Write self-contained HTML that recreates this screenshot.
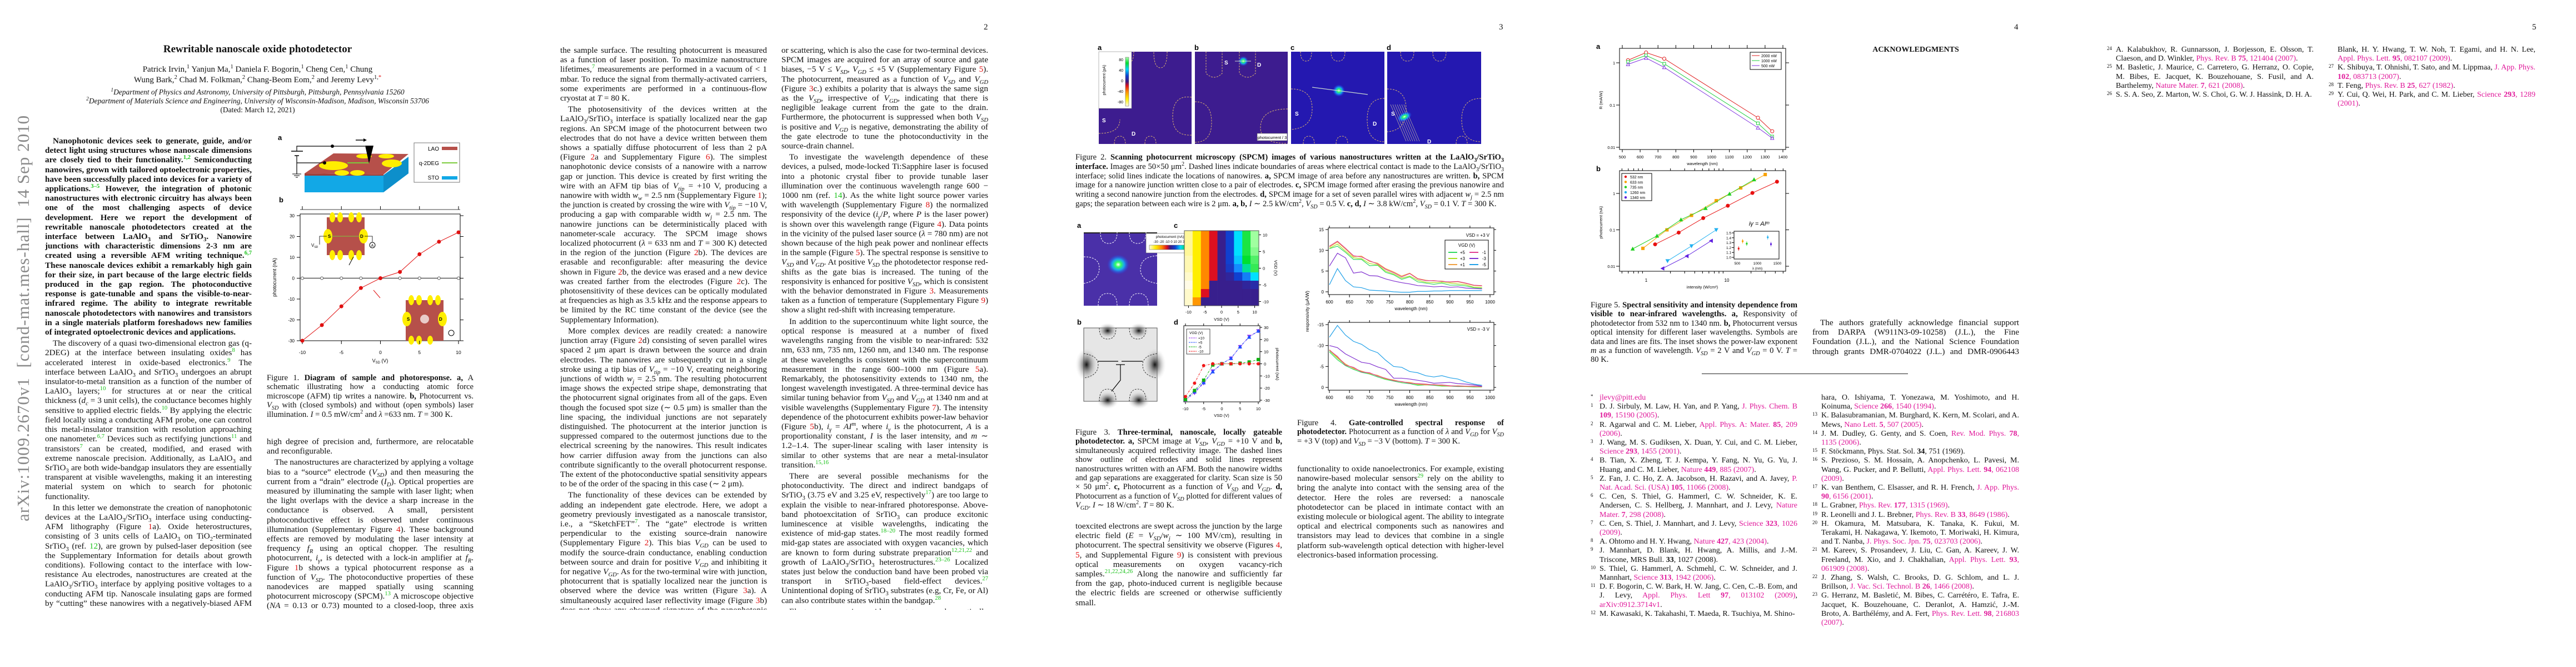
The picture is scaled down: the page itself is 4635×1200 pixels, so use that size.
<!DOCTYPE html>
<html><head><meta charset="utf-8">
<style>
html,body{margin:0;padding:0;background:#fff;}
body{width:4635px;height:1200px;position:relative;overflow:hidden;font-family:"Liberation Serif",serif;color:#111;}
.a{position:absolute;}
.col{position:absolute;width:372px;font-size:15.2px;line-height:17.2px;text-align:justify;overflow:hidden;hyphens:auto;}
.col p{margin:0;text-indent:14px;}
.col p+p{margin-top:3px;}
sup,sub{line-height:0;font-size:70%;}
.g{color:#19c219;} .r{color:#e01010;} .m{color:#e0189a;}
.pn{position:absolute;top:41px;font-size:15px;}
.cap{position:absolute;width:372px;font-size:14.6px;line-height:16.4px;text-align:justify;}
.ref{position:absolute;width:372px;font-size:14px;line-height:16.2px;}
.ref div{padding-left:16px;position:relative;text-align:justify;}
.ref div span.n{position:absolute;left:0;top:-3px;font-size:9px;}
svg text{font-family:"Liberation Sans",sans-serif;}
</style></head>
<body>

<div class="a" style="left:42px;top:598px;width:0;height:0;">
  <div style="position:absolute;left:-340px;top:-18px;width:680px;text-align:center;transform:rotate(-90deg);font-size:31px;color:#8a8a8a;white-space:nowrap;letter-spacing:1px;">arXiv:1009.2670v1&nbsp; [cond-mat.mes-hall]&nbsp; 14 Sep 2010</div>
</div>

<!-- ============ PAGE 1 ============ -->
<div class="a" style="left:0;top:78px;width:927px;text-align:center;font-weight:bold;font-size:19px;">Rewritable nanoscale oxide photodetector</div>
<div class="a" style="left:0;top:116px;width:927px;text-align:center;font-size:15px;line-height:19px;">Patrick Irvin,<sup>1</sup> Yanjun Ma,<sup>1</sup> Daniela F. Bogorin,<sup>1</sup> Cheng Cen,<sup>1</sup> Chung<br>Wung Bark,<sup>2</sup> Chad M. Folkman,<sup>2</sup> Chang-Beom Eom,<sup>2</sup> and Jeremy Levy<sup>1,<span class="r">*</span></sup></div>
<div class="a" style="left:0;top:158px;width:927px;text-align:center;font-size:13.5px;line-height:16px;font-style:italic;"><sup>1</sup>Department of Physics and Astronomy, University of Pittsburgh, Pittsburgh, Pennsylvania 15260<br><sup>2</sup>Department of Materials Science and Engineering, University of Wisconsin-Madison, Madison, Wisconsin 53706<br><span style="font-style:normal">(Dated: March 12, 2021)</span></div>

<div class="col" style="left:81px;top:245px;height:852px;">
<p style="font-weight:bold">Nanophotonic devices seek to generate, guide, and/or detect light using structures whose nanoscale dimensions are closely tied to their functionality.<sup class="g">1,2</sup> Semiconducting nanowires, grown with tailored optoelectronic properties, have been successfully placed into devices for a variety of applications.<sup class="g">3–5</sup> However, the integration of photonic nanostructures with electronic circuitry has always been one of the most challenging aspects of device development. Here we report the development of rewritable nanoscale photodetectors created at the interface between LaAlO<sub>3</sub> and SrTiO<sub>3</sub>. Nanowire junctions with characteristic dimensions 2-3 nm are created using a reversible AFM writing technique.<sup class="g">6,7</sup> These nanoscale devices exhibit a remarkably high gain for their size, in part because of the large electric fields produced in the gap region. The photoconductive response is gate-tunable and spans the visible-to-near-infrared regime. The ability to integrate rewritable nanoscale photodetectors with nanowires and transistors in a single materials platform foreshadows new families of integrated optoelectronic devices and applications.</p>
<p>The discovery of a quasi two-dimensional electron gas (q-2DEG) at the interface between insulating oxides<sup class="g">8</sup> has accelerated interest in oxide-based electronics.<sup class="g">9</sup> The interface between LaAlO<sub>3</sub> and SrTiO<sub>3</sub> undergoes an abrupt insulator-to-metal transition as a function of the number of LaAlO<sub>3</sub> layers;<sup class="g">10</sup> for structures at or near the critical thickness (<i>d<sub>c</sub></i> = 3 unit cells), the conductance becomes highly sensitive to applied electric fields.<sup class="g">10</sup> By applying the electric field locally using a conducting AFM probe, one can control this metal-insulator transition with resolution approaching one nanometer.<sup class="g">6,7</sup> Devices such as rectifying junctions<sup class="g">11</sup> and transistors<sup class="g">7</sup> can be created, modified, and erased with extreme nanoscale precision. Additionally, as LaAlO<sub>3</sub> and SrTiO<sub>3</sub> are both wide-bandgap insulators they are essentially transparent at visible wavelengths, making it an interesting material system on which to search for photonic functionality.</p>
<p>In this letter we demonstrate the creation of nanophotonic devices at the LaAlO<sub>3</sub>/SrTiO<sub>3</sub> interface using conducting-AFM lithography (Figure <span class="r">1</span>a). Oxide heterostructures, consisting of 3 units cells of LaAlO<sub>3</sub> on TiO<sub>2</sub>-terminated SrTiO<sub>3</sub> (ref. <span class="g">12</span>), are grown by pulsed-laser deposition (see the Supplementary Information for details about growth conditions). Following contact to the interface with low-resistance Au electrodes, nanostructures are created at the LaAlO<sub>3</sub>/SrTiO<sub>3</sub> interface by applying positive voltages to a conducting AFM tip. Nanoscale insulating gaps are formed by “cutting” these nanowires with a negatively-biased AFM tip that passes over the nanowire. Electronic nanostructures can be created with a</p>
</div>

<div class="cap" style="left:480px;top:672px;"><span>Figure 1. </span><b>Diagram of sample and photoresponse. a,</b> A schematic illustrating how a conducting atomic force microscope (AFM) tip writes a nanowire. <b>b,</b> Photocurrent vs. <i>V<sub>SD</sub></i> with (closed symbols) and without (open symbols) laser illumination. <i>I</i> = 0.5 mW/cm<sup>2</sup> and <i>λ</i> =633 nm. <i>T</i> = 300 K.</div>

<div class="col" style="left:480px;top:786px;height:311px;">
<p style="text-indent:0">high degree of precision and, furthermore, are relocatable and reconfigurable.</p>
<p>The nanostructures are characterized by applying a voltage bias to a “source” electrode (<i>V<sub>SD</sub></i>) and then measuring the current from a “drain” electrode (<i>I<sub>D</sub></i>). Optical properties are measured by illuminating the sample with laser light; when the light overlaps with the device a sharp increase in the conductance is observed. A small, persistent photoconductive effect is observed under continuous illumination (Supplementary Figure <span class="r">4</span>). These background effects are removed by modulating the laser intensity at frequency <i>f<sub>R</sub></i> using an optical chopper. The resulting photocurrent, <i>i<sub>γ</sub></i>, is detected with a lock-in amplifier at <i>f<sub>R</sub></i>. Figure <span class="r">1</span>b shows a typical photocurrent response as a function of <i>V<sub>SD</sub></i>. The photoconductive properties of these nanodevices are mapped spatially using scanning photocurrent microscopy (SPCM).<sup class="g">13</sup> A microscope objective (<i>NA</i> = 0.13 or 0.73) mounted to a closed-loop, three axis piezo scanner focuses the light and raster-scans it relative to</p>
</div>

<!-- ============ PAGE 2 ============ -->
<div class="pn" style="left:1770px;">2</div>
<div class="col" style="left:1008px;top:82px;height:1015px;">
<p style="text-indent:0">the sample surface. The resulting photocurrent is measured as a function of laser position. To maximize nanostructure lifetimes,<sup class="g">7</sup> measurements are performed in a vacuum of &lt; 1 mbar. To reduce the signal from thermally-activated carriers, some experiments are performed in a continuous-flow cryostat at <i>T</i> = 80 K.</p>
<p>The photosensitivity of the devices written at the LaAlO<sub>3</sub>/SrTiO<sub>3</sub> interface is spatially localized near the gap regions. An SPCM image of the photocurrent between two electrodes that do not have a device written between them shows a spatially diffuse photocurrent of less than 2 pA (Figure <span class="r">2</span>a and Supplementary Figure <span class="r">6</span>). The simplest nanophotonic device consists of a nanowire with a narrow gap or junction. This device is created by first writing the wire with an AFM tip bias of <i>V<sub>tip</sub></i> = +10 V, producing a nanowire with width <i>w<sub>w</sub></i> = 2.5 nm (Supplementary Figure <span class="r">1</span>); the junction is created by crossing the wire with <i>V<sub>tip</sub></i> = −10 V, producing a gap with comparable width <i>w<sub>j</sub></i> = 2.5 nm. The nanowire junctions can be deterministically placed with nanometer-scale accuracy. The SPCM image shows localized photocurrent (<i>λ</i> = 633 nm and <i>T</i> = 300 K) detected in the region of the junction (Figure <span class="r">2</span>b). The devices are erasable and reconfigurable: after measuring the device shown in Figure <span class="r">2</span>b, the device was erased and a new device was created farther from the electrodes (Figure <span class="r">2</span>c). The photosensitivity of these devices can be optically modulated at frequencies as high as 3.5 kHz and the response appears to be limited by the RC time constant of the device (see the Supplementary Information).</p>
<p>More complex devices are readily created: a nanowire junction array (Figure <span class="r">2</span>d) consisting of seven parallel wires spaced 2 μm apart is drawn between the source and drain electrodes. The nanowires are subsequently cut in a single stroke using a tip bias of <i>V<sub>tip</sub></i> = −10 V, creating neighboring junctions of width <i>w<sub>j</sub></i> = 2.5 nm. The resulting photocurrent image shows the expected stripe shape, demonstrating that the photocurrent signal originates from all of the gaps. Even though the focused spot size (∼ 0.5 μm) is smaller than the line spacing, the individual junctions are not separately distinguished. The photocurrent at the interior junction is suppressed compared to the outermost junctions due to the electrical screening by the nanowires. This result indicates how carrier diffusion away from the junctions can also contribute significantly to the overall photocurrent response. The extent of the photoconductive spatial sensitivity appears to be of the order of the spacing in this case (∼ 2 μm).</p>
<p>The functionality of these devices can be extended by adding an independent gate electrode. Here, we adopt a geometry previously investigated as a nanoscale transistor, i.e., a “SketchFET”<sup class="g">7</sup>. The “gate” electrode is written perpendicular to the existing source-drain nanowire (Supplementary Figure <span class="r">2</span>). This bias <i>V<sub>GD</sub></i> can be used to modify the source-drain conductance, enabling conduction between source and drain for positive <i>V<sub>GD</sub></i> and inhibiting it for negative <i>V<sub>GD</sub></i>. As for the two-terminal wire with junction, photocurrent that is spatially localized near the junction is observed where the device was written (Figure <span class="r">3</span>a). A simultaneously acquired laser reflectivity image (Figure <span class="r">3</span>b) does not show any observed signature of the nanophotonic detector, such as changes in the absorption</p>
</div>
<div class="col" style="left:1406px;top:82px;height:1015px;">
<p style="text-indent:0">or scattering, which is also the case for two-terminal devices. SPCM images are acquired for an array of source and gate biases, −5 V ≤ <i>V<sub>SD</sub></i>, <i>V<sub>GD</sub></i> ≤ +5 V (Supplementary Figure <span class="r">5</span>). The photocurrent, measured as a function of <i>V<sub>SD</sub></i> and <i>V<sub>GD</sub></i> (Figure <span class="r">3</span>c.) exhibits a polarity that is always the same sign as the <i>V<sub>SD</sub></i>, irrespective of <i>V<sub>GD</sub></i>, indicating that there is negligible leakage current from the gate to the drain. Furthermore, the photocurrent is suppressed when both <i>V<sub>SD</sub></i> is positive and <i>V<sub>GD</sub></i> is negative, demonstrating the ability of the gate electrode to tune the photoconductivity in the source-drain channel.</p>
<p>To investigate the wavelength dependence of these devices, a pulsed, mode-locked Ti:Sapphire laser is focused into a photonic crystal fiber to provide tunable laser illumination over the continuous wavelength range 600 − 1000 nm (ref. <span class="g">14</span>). As the white light source power varies with wavelength (Supplementary Figure <span class="r">8</span>) the normalized responsivity of the device (<i>i<sub>γ</sub></i>/<i>P</i>, where <i>P</i> is the laser power) is shown over this wavelength range (Figure <span class="r">4</span>). Data points in the vicinity of the pulsed laser source (<i>λ</i> = 780 nm) are not shown because of the high peak power and nonlinear effects in the sample (Figure <span class="r">5</span>). The spectral response is sensitive to <i>V<sub>SD</sub></i> and <i>V<sub>GD</sub></i>. At positive <i>V<sub>SD</sub></i> the photodetector response red-shifts as the gate bias is increased. The tuning of the responsivity is enhanced for positive <i>V<sub>SD</sub></i>, which is consistent with the behavior demonstrated in Figure <span class="r">3</span>. Measurements taken as a function of temperature (Supplementary Figure <span class="r">9</span>) show a slight red-shift with increasing temperature.</p>
<p>In addition to the supercontinuum white light source, the optical response is measured at a number of fixed wavelengths ranging from the visible to near-infrared: 532 nm, 633 nm, 735 nm, 1260 nm, and 1340 nm. The response at these wavelengths is consistent with the supercontinuum measurement in the range 600–1000 nm (Figure <span class="r">5</span>a). Remarkably, the photosensitivity extends to 1340 nm, the longest wavelength investigated. A three-terminal device has similar tuning behavior from <i>V<sub>SD</sub></i> and <i>V<sub>GD</sub></i> at 1340 nm and at visible wavelengths (Supplementary Figure <span class="r">7</span>). The intensity dependence of the photocurrent exhibits power-law behavior (Figure <span class="r">5</span>b), <i>i<sub>γ</sub></i> = <i>AI<sup>m</sup></i>, where <i>i<sub>γ</sub></i> is the photocurrent, <i>A</i> is a proportionality constant, <i>I</i> is the laser intensity, and <i>m</i> ∼ 1.2–1.4. The super-linear scaling with laser intensity is similar to other systems that are near a metal-insulator transition.<sup class="g">15,16</sup></p>
<p>There are several possible mechanisms for the photoconductivity. The direct and indirect bandgaps of SrTiO<sub>3</sub> (3.75 eV and 3.25 eV, respectively<sup class="g">17</sup>) are too large to explain the visible to near-infrared photoresponse. Above-band photoexcitation of SrTiO<sub>3</sub> can produce excitonic luminescence at visible wavelengths, indicating the existence of mid-gap states.<sup class="g">18–20</sup> The most readily formed mid-gap states are associated with oxygen vacancies, which are known to form during substrate preparation<sup class="g">12,21,22</sup> and growth of LaAlO<sub>3</sub>/SrTiO<sub>3</sub> heterostructures.<sup class="g">23–26</sup> Localized states just below the conduction band have been probed via transport in SrTiO<sub>3</sub>-based field-effect devices.<sup class="g">27</sup> Unintentional doping of SrTiO<sub>3</sub> substrates (e.g, Cr, Fe, or Al) can also contribute states within the bandgap.<sup class="g">28</sup></p>
<p>Electrons occupying mid-gap states can be optically excited into the conduction band using sub-bandgap light. The pho-</p>
</div>

<!-- ============ PAGE 3 ============ -->
<div class="pn" style="left:2697px;">3</div>
<div class="cap" style="left:1935px;top:275px;width:771px;font-size:14.6px;line-height:16.8px;">Figure 2. <b>Scanning photocurrent microscopy (SPCM) images of various nanostructures written at the LaAlO<sub>3</sub>/SrTiO<sub>3</sub> interface.</b> Images are 50×50 μm<sup>2</sup>. Dashed lines indicate boundaries of areas where electrical contact is made to the LaAlO<sub>3</sub>/SrTiO<sub>3</sub> interface; solid lines indicate the locations of nanowires. <b>a,</b> SPCM image of area before any nanostructures are written. <b>b,</b> SPCM image for a nanowire junction written close to a pair of electrodes. <b>c,</b> SPCM image formed after erasing the previous nanowire and writing a second nanowire junction from the electrodes. <b>d,</b> SPCM image for a set of seven parallel wires with adjacent <i>w<sub>j</sub></i> = 2.5 nm gaps; the separation between each wire is 2 μm. <b>a, b,</b> <i>I</i> ∼ 2.5 kW/cm<sup>2</sup>, <i>V<sub>SD</sub></i> = 0.5 V. <b>c, d,</b> <i>I</i> ∼ 3.8 kW/cm<sup>2</sup>, <i>V<sub>SD</sub></i> = 0.1 V. <i>T</i> = 300 K.</div>
<div class="cap" style="left:1935px;top:770px;"><span>Figure 3. </span><b>Three-terminal, nanoscale, locally gateable photodetector. a,</b> SPCM image at <i>V<sub>SD</sub></i>, <i>V<sub>GD</sub></i> = +10 V and <b>b,</b> simultaneously acquired reflectivity image. The dashed lines show outline of electrodes and solid lines represent nanostructures written with an AFM. Both the nanowire widths and gap separations are exaggerated for clarity. Scan size is 50 × 50 μm<sup>2</sup>. <b>c,</b> Photocurrent as a function of <i>V<sub>SD</sub></i> and <i>V<sub>GD</sub></i>. <b>d,</b> Photocurrent as a function of <i>V<sub>SD</sub></i> plotted for different values of <i>V<sub>GD</sub></i>. <i>I</i> ∼ 18 W/cm<sup>2</sup>. <i>T</i> = 80 K.</div>
<div class="col" style="left:1935px;top:938px;height:158px;">
<p style="text-indent:0">toexcited electrons are swept across the junction by the large electric field (<i>E</i> = <i>V<sub>SD</sub></i>/<i>w<sub>j</sub></i> ∼ 100 MV/cm), resulting in photocurrent. The spectral sensitivity we observe (Figures <span class="r">4</span>, <span class="r">5</span>, and Supplemental Figure <span class="r">9</span>) is consistent with previous optical measurements on oxygen vacancy-rich samples.<sup class="g">21,22,24,26</sup> Along the nanowire and sufficiently far from the gap, photo-induced current is negligible because the electric fields are screened or otherwise sufficiently small.</p>
<p>The rewritable photodetectors presented here bring new</p>
</div>
<div class="cap" style="left:2334px;top:753px;">Figure 4. <b>Gate-controlled spectral response of photodetector.</b> Photocurrent as a function of <i>λ</i> and <i>V<sub>GD</sub></i> for <i>V<sub>SD</sub></i> = +3 V (top) and <i>V<sub>SD</sub></i> = −3 V (bottom). <i>T</i> = 300 K.</div>
<div class="col" style="left:2334px;top:835px;height:175px;">
<p style="text-indent:0">functionality to oxide nanoelectronics. For example, existing nanowire-based molecular sensors<sup class="g">29</sup> rely on the ability to bring the analyte into contact with the sensing area of the detector. Here the roles are reversed: a nanoscale photodetector can be placed in intimate contact with an existing molecule or biological agent. The ability to integrate optical and electrical components such as nanowires and transistors may lead to devices that combine in a single platform sub-wavelength optical detection with higher-level electronics-based information processing.</p>
</div>

<!-- ============ PAGE 4 ============ -->
<div class="pn" style="left:3624px;">4</div>
<div class="cap" style="left:2862px;top:541px;">Figure 5. <b>Spectral sensitivity and intensity dependence from visible to near-infrared wavelengths. a,</b> Responsivity of photodetector from 532 nm to 1340 nm. <b>b,</b> Photocurrent versus optical intensity for different laser wavelengths. Symbols are data and lines are fits. The inset shows the power-law exponent <i>m</i> as a function of wavelength. <i>V<sub>SD</sub></i> = 2 V and <i>V<sub>GD</sub></i> = 0 V. <i>T</i> = 80 K.</div>
<div class="a" style="left:3261px;top:82px;width:372px;text-align:center;font-weight:bold;font-size:14px;">ACKNOWLEDGMENTS</div>
<div class="col" style="left:3261px;top:572px;height:70px;">
<p>The authors gratefully acknowledge financial support from DARPA (W911N3-09-10258) (J.L.), the Fine Foundation (J.L.), and the National Science Foundation through grants DMR-0704022 (J.L.) and DMR-0906443 (C.B.E).</p>
</div>
<div class="a" style="left:3062px;top:672px;width:371px;height:1px;background:#222;"></div>

<div class="ref" style="left:2862px;top:708px;">
<div><span class="n">*</span><span class="m">jlevy@pitt.edu</span></div>
<div><span class="n">1</span>D. J. Sirbuly, M. Law, H. Yan, and P. Yang, <span class="m">J. Phys. Chem. B <b>109</b>, 15190 (2005)</span>.</div>
<div><span class="n">2</span>R. Agarwal and C. M. Lieber, <span class="m">Appl. Phys. A: Mater. <b>85</b>, 209 (2006)</span>.</div>
<div><span class="n">3</span>J. Wang, M. S. Gudiksen, X. Duan, Y. Cui, and C. M. Lieber, <span class="m">Science <b>293</b>, 1455 (2001)</span>.</div>
<div><span class="n">4</span>B. Tian, X. Zheng, T. J. Kempa, Y. Fang, N. Yu, G. Yu, J. Huang, and C. M. Lieber, <span class="m">Nature <b>449</b>, 885 (2007)</span>.</div>
<div><span class="n">5</span>Z. Fan, J. C. Ho, Z. A. Jacobson, H. Razavi, and A. Javey, <span class="m">P. Nat. Acad. Sci. (USA) <b>105</b>, 11066 (2008)</span>.</div>
<div><span class="n">6</span>C. Cen, S. Thiel, G. Hammerl, C. W. Schneider, K. E. Andersen, C. S. Hellberg, J. Mannhart, and J. Levy, <span class="m">Nature Mater. <b>7</b>, 298 (2008)</span>.</div>
<div><span class="n">7</span>C. Cen, S. Thiel, J. Mannhart, and J. Levy, <span class="m">Science <b>323</b>, 1026 (2009)</span>.</div>
<div><span class="n">8</span>A. Ohtomo and H. Y. Hwang, <span class="m">Nature <b>427</b>, 423 (2004)</span>.</div>
<div><span class="n">9</span>J. Mannhart, D. Blank, H. Hwang, A. Millis, and J.-M. Triscone, MRS Bull. <b>33</b>, 1027 (2008).</div>
<div><span class="n">10</span>S. Thiel, G. Hammerl, A. Schmehl, C. W. Schneider, and J. Mannhart, <span class="m">Science <b>313</b>, 1942 (2006)</span>.</div>
<div><span class="n">11</span>D. F. Bogorin, C. W. Bark, H. W. Jang, C. Cen, C.-B. Eom, and J. Levy, <span class="m">Appl. Phys. Lett <b>97</b>, 013102 (2009)</span>, <span class="m">arXiv:0912.3714v1</span>.</div>
<div><span class="n">12</span>M. Kawasaki, K. Takahashi, T. Maeda, R. Tsuchiya, M. Shino-</div>
</div>
<div class="ref" style="left:3261px;top:708px;">
<div>hara, O. Ishiyama, T. Yonezawa, M. Yoshimoto, and H. Koinuma, <span class="m">Science <b>266</b>, 1540 (1994)</span>.</div>
<div><span class="n">13</span>K. Balasubramanian, M. Burghard, K. Kern, M. Scolari, and A. Mews, <span class="m">Nano Lett. <b>5</b>, 507 (2005)</span>.</div>
<div><span class="n">14</span>J. M. Dudley, G. Genty, and S. Coen, <span class="m">Rev. Mod. Phys. <b>78</b>, 1135 (2006)</span>.</div>
<div><span class="n">15</span>F. Stöckmann, Phys. Stat. Sol. <b>34</b>, 751 (1969).</div>
<div><span class="n">16</span>S. Prezioso, S. M. Hossain, A. Anopchenko, L. Pavesi, M. Wang, G. Pucker, and P. Bellutti, <span class="m">Appl. Phys. Lett. <b>94</b>, 062108 (2009)</span>.</div>
<div><span class="n">17</span>K. van Benthem, C. Elsasser, and R. H. French, <span class="m">J. App. Phys. <b>90</b>, 6156 (2001)</span>.</div>
<div><span class="n">18</span>L. Grabner, <span class="m">Phys. Rev. <b>177</b>, 1315 (1969)</span>.</div>
<div><span class="n">19</span>R. Leonelli and J. L. Brebner, <span class="m">Phys. Rev. B <b>33</b>, 8649 (1986)</span>.</div>
<div><span class="n">20</span>H. Okamura, M. Matsubara, K. Tanaka, K. Fukui, M. Terakami, H. Nakagawa, Y. Ikemoto, T. Moriwaki, H. Kimura, and T. Nanba, <span class="m">J. Phys. Soc. Jpn. <b>75</b>, 023703 (2006)</span>.</div>
<div><span class="n">21</span>M. Kareev, S. Prosandeev, J. Liu, C. Gan, A. Kareev, J. W. Freeland, M. Xio, and J. Chakhalian, <span class="m">Appl. Phys. Lett. <b>93</b>, 061909 (2008)</span>.</div>
<div><span class="n">22</span>J. Zhang, S. Walsh, C. Brooks, D. G. Schlom, and L. J. Brillson, <span class="m">J. Vac. Sci. Technol. B <b>26</b>, 1466 (2008)</span>.</div>
<div><span class="n">23</span>G. Herranz, M. Basletić, M. Bibes, C. Carrétéro, E. Tafra, E. Jacquet, K. Bouzehouane, C. Deranlot, A. Hamzić, J.-M. Broto, A. Barthélémy, and A. Fert, <span class="m">Phys. Rev. Lett. <b>98</b>, 216803 (2007)</span>.</div>
</div>

<!-- ============ PAGE 5 ============ -->
<div class="pn" style="left:4556px;">5</div>
<div class="ref" style="left:3791px;top:82px;">
<div><span class="n">24</span>A. Kalabukhov, R. Gunnarsson, J. Borjesson, E. Olsson, T. Claeson, and D. Winkler, <span class="m">Phys. Rev. B <b>75</b>, 121404 (2007)</span>.</div>
<div><span class="n">25</span>M. Basletic, J. Maurice, C. Carretero, G. Herranz, O. Copie, M. Bibes, E. Jacquet, K. Bouzehouane, S. Fusil, and A. Barthelemy, <span class="m">Nature Mater. <b>7</b>, 621 (2008)</span>.</div>
<div><span class="n">26</span>S. S. A. Seo, Z. Marton, W. S. Choi, G. W. J. Hassink, D. H. A.</div>
</div>
<div class="ref" style="left:4190px;top:82px;">
<div>Blank, H. Y. Hwang, T. W. Noh, T. Egami, and H. N. Lee, <span class="m">Appl. Phys. Lett. <b>95</b>, 082107 (2009)</span>.</div>
<div><span class="n">27</span>K. Shibuya, T. Ohnishi, T. Sato, and M. Lippmaa, <span class="m">J. App. Phys. <b>102</b>, 083713 (2007)</span>.</div>
<div><span class="n">28</span>T. Feng, <span class="m">Phys. Rev. B <b>25</b>, 627 (1982)</span>.</div>
<div><span class="n">29</span>Y. Cui, Q. Wei, H. Park, and C. M. Lieber, <span class="m">Science <b>293</b>, 1289 (2001)</span>.</div>
</div>

<!-- ============ FIGURES (SVG) ============ -->
<svg id="figs" class="a" style="left:0;top:0;" width="4635" height="1200" viewBox="0 0 4635 1200">
<defs>
  <radialGradient id="glow" cx="0.5" cy="0.5" r="0.5">
    <stop offset="0" stop-color="#ffffff"/><stop offset="0.25" stop-color="#30ff60"/><stop offset="0.55" stop-color="#10c0ff" stop-opacity="0.8"/><stop offset="1" stop-color="#2040ff" stop-opacity="0"/>
  </radialGradient>
  <linearGradient id="cbarV" x1="0" y1="1" x2="0" y2="0">
    <stop offset="0" stop-color="#fffbe0"/><stop offset="0.15" stop-color="#ffee00"/><stop offset="0.3" stop-color="#ff8800"/><stop offset="0.42" stop-color="#dd1020"/><stop offset="0.5" stop-color="#401880"/><stop offset="0.62" stop-color="#1040d0"/><stop offset="0.75" stop-color="#00d8ff"/><stop offset="0.88" stop-color="#00e030"/><stop offset="1" stop-color="#b0ffb0"/>
  </linearGradient>
  <linearGradient id="cbarH" x1="0" y1="0" x2="1" y2="0">
    <stop offset="0" stop-color="#fffbe0"/><stop offset="0.15" stop-color="#ffee00"/><stop offset="0.3" stop-color="#ff8800"/><stop offset="0.42" stop-color="#dd1020"/><stop offset="0.5" stop-color="#401880"/><stop offset="0.62" stop-color="#1040d0"/><stop offset="0.75" stop-color="#00d8ff"/><stop offset="0.88" stop-color="#00e030"/><stop offset="1" stop-color="#b0ffb0"/>
  </linearGradient>
  <radialGradient id="dark" cx="0.5" cy="0.5" r="0.5"><stop offset="0" stop-color="#111"/><stop offset="1" stop-color="#ddd" stop-opacity="0"/></radialGradient>
</defs>

<g>
  <text x="500" y="252" font-size="13" font-weight="bold">a</text>
  <polygon points="548,315 690,315 690,346 548,346" fill="#12a8e6"/>
  <polygon points="690,315 735,282 735,312 690,346" fill="#0d8fcb"/>
  <polygon points="548,312 600,276 735,277 690,314" fill="#b6504a"/>
  <polygon points="548,312 690,314 690,316 548,316" fill="#9e3f3a"/>
  <ellipse cx="600" cy="298" rx="26" ry="8" fill="#ffee00"/>
  <ellipse cx="705" cy="294" rx="18" ry="7" fill="#ffee00"/>
  <ellipse cx="655" cy="281" rx="14" ry="4" fill="#ffee00"/>
  <ellipse cx="695" cy="281" rx="14" ry="4" fill="#ffee00"/>
  <ellipse cx="615" cy="311" rx="13" ry="5" fill="#ffee00"/>
  <ellipse cx="643" cy="311" rx="13" ry="5" fill="#ffee00"/>
  <line x1="625" y1="293" x2="664" y2="293" stroke="#7ccc3c" stroke-width="2"/>
  <polygon points="657,262 672,262 664,294" fill="#000"/>
  <polyline points="657,263 534,263 534,272" fill="none" stroke="#000" stroke-width="1.2"/>
  <line x1="524" y1="272" x2="545" y2="272" stroke="#000" stroke-width="1.5"/>
  <line x1="530" y1="280" x2="538" y2="280" stroke="#000" stroke-width="1.5"/>
  <polyline points="534,280 534,313" fill="none" stroke="#000" stroke-width="1.2"/>
  <line x1="526" y1="313" x2="542" y2="313" stroke="#000"/><line x1="529" y1="316" x2="539" y2="316" stroke="#000"/><line x1="532" y1="319" x2="536" y2="319" stroke="#000"/>
  <polyline points="534,293 584,293" fill="none" stroke="#000" stroke-width="1.2"/>
  <circle cx="598" cy="263" r="3" fill="#000"/><circle cx="584" cy="293" r="3" fill="#000"/>
  <line x1="640" y1="252" x2="658" y2="252" stroke="#000" stroke-width="1.5"/><polygon points="660,252 654,249 654,255" fill="#000"/>
  <rect x="745" y="257" width="82" height="71" fill="#fff" stroke="#777"/>
  <text x="790" y="271" font-size="10" text-anchor="end">LAO</text><rect x="795" y="264" width="28" height="6" fill="#b6504a"/>
  <text x="790" y="297" font-size="10" text-anchor="end">q-2DEG</text><line x1="795" y1="293" x2="823" y2="293" stroke="#7ccc3c" stroke-width="2"/>
  <text x="790" y="323" font-size="10" text-anchor="end">STO</text><rect x="795" y="317" width="28" height="6" fill="#12a8e6"/>
</g>

<g id="fig1b">
  <text x="502" y="364" font-size="13" font-weight="bold">b</text>
  <rect x="540" y="385" width="288" height="228" fill="none" stroke="#000" stroke-width="1"/>
  <line x1="540" y1="377" x2="828" y2="377" stroke="#000" stroke-width="0.8"/>
  <text x="497" y="499" font-size="9" transform="rotate(-90 497 499)" text-anchor="middle">photocurrent (nA)</text>
  <text x="684" y="652" font-size="9" text-anchor="middle">V<tspan font-size="6" dy="2">SD</tspan><tspan dy="-2"> (V)</tspan></text>
  <g>
    <rect x="588" y="391" width="68" height="68" fill="#b6504a"/>
    <ellipse cx="598" cy="391" rx="5" ry="9" fill="#ffee00"/><ellipse cx="612" cy="391" rx="5" ry="9" fill="#ffee00"/><ellipse cx="632" cy="391" rx="5" ry="9" fill="#ffee00"/><ellipse cx="646" cy="391" rx="5" ry="9" fill="#ffee00"/>
    <ellipse cx="598" cy="459" rx="5" ry="9" fill="#ffee00"/><ellipse cx="612" cy="459" rx="5" ry="9" fill="#ffee00"/><ellipse cx="632" cy="459" rx="5" ry="9" fill="#ffee00"/><ellipse cx="646" cy="459" rx="5" ry="9" fill="#ffee00"/>
    <ellipse cx="590" cy="425" rx="8" ry="13" fill="#ffee00"/><ellipse cx="654" cy="425" rx="8" ry="13" fill="#ffee00"/>
    <line x1="596" y1="425" x2="648" y2="425" stroke="#7ccc3c"/>
    <text x="590" y="428" font-size="8" font-weight="bold">S</text><text x="648" y="428" font-size="8" font-weight="bold">D</text>
    <polyline points="588,425 575,425 575,440" fill="none" stroke="#000" stroke-width="0.8"/>
    <polyline points="656,425 670,425 670,435" fill="none" stroke="#000" stroke-width="0.8"/>
    <circle cx="670" cy="441" r="5" fill="#fff" stroke="#000"/><text x="670" y="444" font-size="7" text-anchor="middle">A</text>
    <text x="560" y="444" font-size="8">V<tspan font-size="5" dy="2">SD</tspan></text>
    <line x1="628" y1="477" x2="636" y2="462" stroke="#000"/>
  </g>
  <g>
    <rect x="730" y="540" width="68" height="73" fill="#b6504a"/>
    <ellipse cx="740" cy="540" rx="5" ry="9" fill="#ffee00"/><ellipse cx="754" cy="540" rx="5" ry="9" fill="#ffee00"/><ellipse cx="774" cy="540" rx="5" ry="9" fill="#ffee00"/><ellipse cx="788" cy="540" rx="5" ry="9" fill="#ffee00"/>
    <ellipse cx="740" cy="612" rx="5" ry="8" fill="#ffee00"/><ellipse cx="754" cy="612" rx="5" ry="8" fill="#ffee00"/><ellipse cx="774" cy="612" rx="5" ry="8" fill="#ffee00"/>
    <ellipse cx="732" cy="574" rx="8" ry="13" fill="#ffee00"/><ellipse cx="796" cy="574" rx="8" ry="13" fill="#ffee00"/>
    <circle cx="764" cy="574" r="8" fill="#fff" opacity="0.7"/>
    <text x="732" y="577" font-size="8" font-weight="bold">S</text><text x="790" y="577" font-size="8" font-weight="bold">D</text>
    <circle cx="812" cy="599" r="5" fill="#fff" stroke="#000"/>
    <line x1="672" y1="522" x2="684" y2="536" stroke="#e01010"/>
  </g>
</g>

<g>
  <text x="1975" y="90" font-size="13" font-weight="bold">a</text>
  <text x="2149" y="90" font-size="13" font-weight="bold">b</text>
  <text x="2322" y="90" font-size="13" font-weight="bold">c</text>
  <text x="2495" y="90" font-size="13" font-weight="bold">d</text>
  <rect x="1977" y="93" width="167" height="166" fill="#3d1c8f"/>
  <rect x="2150" y="93" width="167" height="166" fill="#3d1c8f"/>
  <rect x="2323" y="93" width="168" height="166" fill="#2418b0"/>
  <rect x="2496" y="93" width="169" height="166" fill="#2418b0"/>
  <g fill="none" stroke="#d8b070" stroke-width="1" stroke-dasharray="3,2">
    <path d="M2040,93 Q2040,116 2025,116 Q2012,116 2012,93"/>
    <path d="M2100,93 Q2100,122 2088,122 Q2076,122 2076,93"/>
    <path d="M2144,175 Q2110,170 2110,210 Q2110,245 2144,243"/>
    <path d="M1977,240 Q2015,240 2015,215"/>
    <path d="M2005,259 Q2005,245 2015,245 Q2025,245 2025,259"/>
    <path d="M2060,259 Q2060,245 2070,245 Q2080,245 2080,259"/>
    <path d="M2170,93 L2170,132 Q2185,146 2199,132 L2199,93"/>
    <path d="M2230,93 L2230,132 Q2245,146 2259,132 L2259,93"/>
    <path d="M2150,183 Q2180,183 2180,220 Q2180,256 2150,256"/>
    <path d="M2317,196 Q2268,196 2268,230 Q2268,258 2317,258"/>
    <path d="M2340,93 Q2340,110 2350,110 Q2360,110 2360,93"/>
    <path d="M2395,93 Q2395,110 2408,110 Q2420,110 2420,93"/>
    <path d="M2323,160 Q2361,160 2361,196 Q2361,230 2323,233"/>
    <path d="M2491,177 Q2460,177 2460,215 Q2460,255 2491,255"/>
    <path d="M2345,259 Q2345,245 2355,245 Q2365,245 2365,259"/>
    <path d="M2404,259 Q2404,245 2415,245 Q2425,245 2425,259"/>
    <path d="M2520,93 Q2520,110 2532,110 Q2544,110 2544,93"/>
    <path d="M2578,93 Q2578,110 2590,110 Q2602,110 2602,93"/>
    <path d="M2496,160 Q2530,160 2530,196 Q2530,235 2496,237"/>
    <path d="M2665,177 Q2630,177 2630,215 Q2630,255 2665,255"/>
    <path d="M2620,259 Q2620,245 2630,245 Q2640,245 2640,259"/>
  </g>
  <rect x="1977" y="93" width="59" height="102" fill="#fff" stroke="#888" stroke-width="0.6"/>
  <rect x="2025" y="103" width="6" height="88" fill="url(#cbarV)" stroke="#555" stroke-width="0.5"/>
  <text x="1989" y="144" font-size="7" transform="rotate(-90 1989 144)" text-anchor="middle">photocurrent (pA)</text>
  <text x="2021" y="110" font-size="7" text-anchor="end">80</text><text x="2021" y="129" font-size="7" text-anchor="end">40</text><text x="2021" y="148" font-size="7" text-anchor="end">0</text><text x="2021" y="167" font-size="7" text-anchor="end">-40</text><text x="2021" y="186" font-size="7" text-anchor="end">-80</text>
  <text x="1983" y="220" font-size="10" fill="#fff" font-weight="bold">S</text><text x="2036" y="244" font-size="10" fill="#fff" font-weight="bold">D</text>
  <circle cx="2237" cy="110" r="9" fill="url(#glow)"/>
  <line x1="2222" y1="110" x2="2251" y2="110" stroke="#c8d8d0" stroke-width="1"/>
  <text x="2203" y="116" font-size="10" fill="#fff" font-weight="bold">S</text><text x="2262" y="120" font-size="10" fill="#fff" font-weight="bold">D</text>
  <rect x="2262" y="240" width="54" height="13" fill="#fff" stroke="#555" stroke-width="0.6"/>
  <text x="2289" y="250" font-size="7.5" text-anchor="middle">photocurrent / 3</text>
  <circle cx="2409" cy="163" r="11" fill="url(#glow)"/>
  <line x1="2361" y1="157" x2="2461" y2="170" stroke="#c8d8d0" stroke-width="1.2"/>
  <text x="2330" y="208" font-size="10" fill="#fff" font-weight="bold">S</text><text x="2470" y="226" font-size="10" fill="#fff" font-weight="bold">D</text>
  <g stroke="#d8d0a0" stroke-width="0.6">
    <line x1="2502" y1="188" x2="2530" y2="254"/>
    <line x1="2506" y1="188" x2="2534" y2="254"/>
    <line x1="2510" y1="188" x2="2538" y2="254"/>
    <line x1="2514" y1="188" x2="2542" y2="254"/>
    <line x1="2518" y1="188" x2="2546" y2="254"/>
    <line x1="2522" y1="188" x2="2550" y2="254"/>
    <line x1="2526" y1="188" x2="2554" y2="254"/>
  </g>
  <ellipse cx="2527" cy="210" rx="14" ry="8" fill="url(#glow)" transform="rotate(-25 2527 210)"/>
  <text x="2503" y="208" font-size="10" fill="#fff" font-weight="bold">S</text><text x="2568" y="258" font-size="10" fill="#fff" font-weight="bold">D</text>
</g>

<g>
  <text x="1938" y="410" font-size="13" font-weight="bold">a</text>
  <text x="2112" y="410" font-size="13" font-weight="bold">c</text>
  <text x="1938" y="584" font-size="13" font-weight="bold">b</text>
  <text x="2112" y="584" font-size="13" font-weight="bold">d</text>
  <rect x="1950" y="418" width="132" height="132" fill="#4a30a8"/>
  <rect x="1950" y="418" width="132" height="2" fill="#222"/>
  <ellipse cx="2012" cy="476" rx="20" ry="18" fill="url(#glow)"/>
  <g fill="none" stroke="#fff" stroke-width="1" stroke-dasharray="3,2">
    <path d="M1980,418 Q1980,438 1995,438 Q2010,438 2010,418"/>
    <path d="M2032,418 Q2032,438 2047,438 Q2062,438 2062,418"/>
    <path d="M1950,462 Q1978,462 1978,482 Q1978,505 1950,510"/>
    <path d="M2082,460 Q2052,462 2052,485 Q2052,505 2082,510"/>
    <path d="M1976,550 Q1976,528 1993,528 Q2010,528 2010,550"/>
    <path d="M2032,550 Q2032,528 2049,528 Q2066,528 2066,550"/>
  </g>
  <rect x="2062" y="420" width="86" height="35" fill="#fff" stroke="#666" stroke-width="0.6"/>
  <text x="2105" y="428" font-size="6.5" text-anchor="middle">photocurrent (nA)</text>
  <text x="2105" y="437" font-size="6" text-anchor="middle">-30 -20 -10  0  10  20  30</text>
  <rect x="2068" y="441" width="75" height="8" fill="url(#cbarH)" stroke="#555" stroke-width="0.5"/>
  <rect x="1950" y="590" width="132" height="132" fill="#e6e6e6" stroke="#555"/>
  <ellipse cx="1993" cy="595" rx="18" ry="14" fill="url(#dark)"/><ellipse cx="2049" cy="595" rx="18" ry="14" fill="url(#dark)"/>
  <ellipse cx="1955" cy="656" rx="20" ry="30" fill="url(#dark)"/><ellipse cx="2078" cy="656" rx="20" ry="30" fill="url(#dark)"/>
  <ellipse cx="1993" cy="720" rx="20" ry="16" fill="url(#dark)"/><ellipse cx="2049" cy="720" rx="20" ry="16" fill="url(#dark)"/>
  <g fill="none" stroke="#111" stroke-width="0.8" stroke-dasharray="3,2">
    <path d="M1978,590 Q1978,610 1993,610 Q2008,610 2008,590"/>
    <path d="M2032,590 Q2032,610 2047,610 Q2062,610 2062,590"/>
    <path d="M1950,636 Q1976,640 1976,656 Q1976,676 1950,680"/>
    <path d="M2082,636 Q2056,640 2056,656 Q2056,676 2082,680"/>
    <path d="M1978,722 Q1978,700 1993,700 Q2008,700 2008,722"/>
    <path d="M2032,722 Q2032,700 2047,700 Q2062,700 2062,722"/>
  </g>
  <g stroke="#000" stroke-width="1.2" fill="none">
    <line x1="1975" y1="650" x2="2012" y2="650"/><line x1="2018" y1="650" x2="2056" y2="650"/>
    <line x1="2008" y1="656" x2="2024" y2="656"/>
    <polyline points="2016,656 2016,684 2000,704"/>
  </g>
</g>
<g id="fig3c"></g>
<g id="fig3d"></g>
<g id="fig4"></g>
<g id="fig5a"><text x="2872" y="88" font-size="13" font-weight="bold">a</text></g>
<g id="fig5b"><text x="2872" y="308" font-size="13" font-weight="bold">b</text></g>
</svg>

<script>
const f1Vsd = [-10, -7.5, -5, -2.5, 0, 2.5, 5, 7.5, 10];
const f1Light = [-30, -22.5, -13.5, -4.7, 0, 3, 11.5, 17.5, 22];
const f1Dark = [0, 0, 0, 0, 0, 0, 0, 0, 0];
const f1YTicks = [-30, -20, -10, 0, 10, 20, 30];
const f1XTicks = [-10, -5, 0, 5, 10];

const f3cVsd = [-10, -7.5, -5, -2.5, 0, 2.5, 5, 7.5, 10];
const f3cVgd = [10, 7.5, 5, 2.5, 0, -2.5, -5, -7.5, -10];
const f3cRow0 = [-28, -22, -15, -8, 1, 6, 15, 22, 27];
const f3cRow1 = [-28, -22, -15, -8, 1, 6, 15, 22, 27];
const f3cRow2 = [-28, -22, -15, -8, 1, 6, 15, 22, 26];
const f3cRow3 = [-29, -22, -15, -8, 1, 6, 14, 21, 24];
const f3cRow4 = [-29, -22, -15, -8, 1, 5, 12, 18, 23];
const f3cRow5 = [-30, -22, -15, -8, 1, 2, 6, 11, 15];
const f3cRow6 = [-31, -22, -15, 1, 1, 1, 1, 2, 3];
const f3cRow7 = [-30, -22, -8, 1, 1, 1, 1, 1, 1];
const f3cRow8 = [-30, -16, 1, 1, 1, 1, 1, 1, 1];
const f3cRows = [f3cRow0, f3cRow1, f3cRow2, f3cRow3, f3cRow4, f3cRow5, f3cRow6, f3cRow7, f3cRow8];

const f3dVsd = [-10, -7.5, -5, -2.5, 0, 2.5, 5, 7.5, 10];
const f3dP10 = [-30, -24, -16, -6, 0, 4.5, 14, 22.5, 27];
const f3dP5 = [-29.5, -23, -15.5, -6.5, 0, 4.5, 14, 22, 27];
const f3dM5 = [-29.5, -22, -13.5, -1, 0, 0, 0.5, 1.5, 3.5];
const f3dM10 = [-27, -16, -1.5, 0, 0, 0, 0, 0, 0];
const f3dLabels = ["+10", "+5", "-5", "-10"];

const f4Lambda = [600, 620, 640, 660, 680, 700, 720, 740, 760, 780, 800, 820, 840, 860, 880, 900, 920, 940, 960, 980];
const f4TopP5 = [10.4, 11.0, 9.5, 7.8, 7.8, 6.3, 6.4, 4.7, 4.1, 3.0, 3.6, 2.4, 2.1, 1.8, 2.1, 1.6, 1.6, 1.4, 1.0, 0.9];
const f4TopP3 = [10.5, 11.5, 9.8, 8.2, 8.0, 6.8, 6.5, 5.0, 4.3, 3.3, 3.8, 2.8, 2.3, 2.2, 2.3, 2.1, 1.9, 1.7, 1.1, 1.0];
const f4TopP1 = [10.8, 12.0, 10.3, 8.5, 8.6, 7.3, 6.9, 5.6, 4.8, 3.8, 4.5, 3.2, 2.8, 2.6, 2.6, 2.3, 2.4, 2.0, 1.5, 1.4];
const f4TopM1 = [11.0, 12.2, 10.5, 8.7, 8.4, 7.5, 6.7, 5.4, 4.6, 3.6, 4.4, 3.1, 2.7, 2.7, 2.5, 2.4, 2.5, 2.1, 1.6, 1.5];
const f4TopM3 = [6.2, 9.3, 8.2, 4.5, 4.8, 3.9, 3.8, 3.1, 2.6, 2.2, 1.9, 1.5, 1.4, 1.2, 1.3, 1.1, 1.2, 0.9, 0.8, 0.7];
const f4TopM5 = [1.7, 5.6, 2.7, 1.2, 1.0, 0.4, 0.3, 0.2, 0.0, -0.1, -0.1, 0.1, 0.1, 0.2, 0.2, 0.3, 0.3, 0.3, 0.3, 0.3];
const f4BotP5 = [-8.5, -6.6, -5.2, -4.3, -3.6, -3.2, -2.5, -1.9, -1.5, -1.1, -0.9, -0.5, -0.6, -0.5, -0.3, -0.3, -0.2, -0.2, -0.1, -0.1];
const f4BotP3 = [-8.8, -7.0, -5.4, -4.6, -3.8, -3.4, -2.8, -2.0, -1.7, -1.3, -1.1, -0.7, -0.7, -0.6, -0.4, -0.4, -0.3, -0.2, -0.2, -0.1];
const f4BotP1 = [-9.0, -7.2, -5.6, -4.5, -3.9, -3.3, -2.9, -2.1, -1.8, -1.3, -1.2, -0.8, -0.6, -0.7, -0.5, -0.3, -0.4, -0.3, -0.2, -0.2];
const f4BotM1 = [-8.9, -7.4, -5.3, -4.8, -3.7, -3.5, -2.7, -2.2, -1.6, -1.4, -1.0, -0.9, -0.8, -0.6, -0.6, -0.4, -0.3, -0.3, -0.3, -0.2];
const f4BotM3 = [-10.0, -9.5, -8.0, -7.0, -6.0, -5.7, -4.9, -4.3, -2.2, -2.2, -2.0, -1.7, -1.4, -1.0, -1.1, -1.2, -0.9, -0.8, -0.6, -0.3];
const f4BotM5 = [-12.0, -14.8, -12.5, -11.0, -10.3, -9.0, -8.3, -6.5, -5.0, -4.8, -3.8, -3.5, -2.8, -2.5, -2.8, -2.3, -2.0, -1.3, -0.8, -0.5];
const f4XTicks = [600, 650, 700, 750, 800, 850, 900, 950, 1000];
const f4TopYTicks = [0, 5, 10, 15];
const f4BotYTicks = [-15, -10, -5, 0];
const f4Labels = ["+5", "+3", "+1", "-1", "-3", "-5"];

const f5aLambda = [532, 633, 735, 1260, 1340];
const f5a2000 = [1.15, 1.75, 1.25, 0.05, 0.024];
const f5a1000 = [1.05, 1.5, 0.95, 0.037, 0.018];
const f5a500 = [0.92, 1.3, 0.78, 0.029, 0.0165];
const f5aXTicks = [500, 600, 700, 800, 900, 1000, 1100, 1200, 1300, 1400];
const f5aLabels = ["2000 nW", "1000 nW", "500 nW"];

const f5bI532 = [1.29, 2.53, 5.1, 10.3, 20.8, 42];
const f5bP532 = [0.040, 0.084, 0.21, 0.46, 1.03, 2.1];
const f5bI633 = [0.91, 1.81, 3.65, 7.4, 14.9, 30];
const f5bP633 = [0.031, 0.10, 0.25, 0.63, 1.42, 3.3];
const f5bI735 = [0.68, 1.36, 2.7, 5.45, 10.8, 21.8];
const f5bP735 = [0.030, 0.068, 0.19, 0.39, 0.97, 2.4];
const f5bI1260 = [1.84, 3.65, 7.4];
const f5bP1260 = [0.014, 0.036, 0.10];
const f5bI1340 = [1.6, 3.2, 6.4];
const f5bP1340 = [0.0087, 0.019, 0.05];
const f5bLabels = ["532 nm", "633 nm", "735 nm", "1260 nm", "1340 nm"];
const f5bInsetLambda = [532, 633, 735, 1260, 1340];
const f5bInsetM = [1.18, 1.33, 1.28, 1.41, 1.27];

const NS = "http://www.w3.org/2000/svg";
function lin(d0, d1, r0, r1) { return v => r0 + (v - d0) / (d1 - d0) * (r1 - r0); }
function lg(d0, d1, r0, r1) { return v => r0 + (Math.log10(v) - Math.log10(d0)) / (Math.log10(d1) - Math.log10(d0)) * (r1 - r0); }
function el(parent, tag, attrs) {
  const e = document.createElementNS(NS, tag);
  for (const k in attrs) e.setAttribute(k, attrs[k]);
  parent.appendChild(e);
  return e;
}
function label(e, name) {
  
  
}
function txt(parent, x, y, s, size, anchor) {
  const t = el(parent, "text", { x: x, y: y, "font-size": size, "text-anchor": anchor || "middle" });
  t.textContent = s;
  return t;
}
function series(parent, xs, ys, fx, fy, color, name, opts) {
  opts = opts || {};
  const pts = xs.map((x, i) => fx(x) + "," + fy(ys[i])).join(" ");
  const pl = el(parent, "polyline", { points: pts, fill: "none", stroke: color, "stroke-width": opts.w || 1, "stroke-dasharray": opts.dash || "none" });
  
  
  if (opts.marker) {
    xs.forEach((x, i) => {
      const cx = fx(x), cy = fy(ys[i]);
      let m;
      if (opts.marker === "circle") m = el(parent, "circle", { cx: cx, cy: cy, r: opts.r || 2.5, fill: opts.fill || color, stroke: color });
      else if (opts.marker === "square") m = el(parent, "rect", { x: cx - 2.5, y: cy - 2.5, width: 5, height: 5, fill: opts.fill || color, stroke: color });
      else if (opts.marker === "tri") m = el(parent, "polygon", { points: (cx) + "," + (cy - 3) + " " + (cx - 3) + "," + (cy + 2.5) + " " + (cx + 3) + "," + (cy + 2.5), fill: opts.fill || color, stroke: color });
      else if (opts.marker === "tridown") m = el(parent, "polygon", { points: (cx) + "," + (cy + 3) + " " + (cx - 3) + "," + (cy - 2.5) + " " + (cx + 3) + "," + (cy - 2.5), fill: opts.fill || color, stroke: color });
      else m = el(parent, "polygon", { points: (cx - 3) + "," + cy + " " + (cx + 2.5) + "," + (cy - 3) + " " + (cx + 2.5) + "," + (cy + 3), fill: opts.fill || color, stroke: color });
      
      
    });
  }
}

(function () {
  const g = document.getElementById("fig1b");
  const fx = lin(-10, 10, 544, 825), fy = lin(-30, 30, 613, 388);
  f1XTicks.forEach(v => {
    el(g, "line", { x1: fx(v), y1: 377, x2: fx(v), y2: 371, stroke: "#000" });
    el(g, "line", { x1: fx(v), y1: 613, x2: fx(v), y2: 619, stroke: "#000" });
    const t = txt(g, fx(v), 637, String(v), 8.5);
    label(t, 'figure1b-x-tick');
  });
  f1YTicks.forEach(v => {
    el(g, "line", { x1: 540, y1: fy(v), x2: 534, y2: fy(v), stroke: "#000" });
    el(g, "line", { x1: 828, y1: fy(v), x2: 834, y2: fy(v), stroke: "#000" });
    const t = txt(g, 530, fy(v) + 3, String(v), 8, "end");
    label(t, 'figure1b-y-tick');
  });
  series(g, f1Vsd, f1Dark, fx, fy, "#555", "figure1b-dark", { marker: "circle", fill: "#fff", w: 1.5 });
  series(g, f1Vsd, f1Light, fx, fy, "#e01010", "figure1b-light", { marker: "circle", r: 3 });
})();

function cmap(v) {
  const stops = [[-31, [255, 251, 230]], [-22, [255, 238, 0]], [-15, [255, 136, 0]], [-8, [221, 16, 32]], [0, [64, 24, 128]], [6, [16, 64, 208]], [12, [20, 140, 255]], [15, [0, 224, 255]], [21, [0, 224, 48]], [27, [160, 255, 160]]];
  if (v <= stops[0][0]) return "rgb(" + stops[0][1].join(",") + ")";
  for (let i = 1; i < stops.length; i++) {
    if (v <= stops[i][0]) {
      const t = (v - stops[i - 1][0]) / (stops[i][0] - stops[i - 1][0]);
      const c = stops[i - 1][1].map((a, k) => Math.round(a + t * (stops[i][1][k] - a)));
      return "rgb(" + c.join(",") + ")";
    }
  }
  return "rgb(" + stops[stops.length - 1][1].join(",") + ")";
}
(function () {
  const g = document.getElementById("fig3c");
  const x0 = 2131, x1 = 2265, y0 = 415, y1 = 550;
  const cw = (x1 - x0) / f3cVsd.length, ch = (y1 - y0) / f3cVgd.length;
  f3cRows.forEach((row, r) => row.forEach((v, c) => {
    const cell = el(g, "rect", { x: x0 + c * cw, y: y0 + r * ch, width: cw + 0.3, height: ch + 0.3, fill: cmap(v) });
    
    
  }));
  el(g, "rect", { x: x0, y: y0, width: x1 - x0, height: y1 - y0, fill: "none", stroke: "#555" });
  const fx = lin(-10, 10, x0 + cw / 2, x1 - cw / 2), fy = lin(10, -10, y0 + ch / 2, y1 - ch / 2);
  [-10, -5, 0, 5, 10].forEach(v => {
    el(g, "line", { x1: fx(v), y1: y1, x2: fx(v), y2: y1 + 4, stroke: "#000" });
    const t = txt(g, fx(v), y1 + 14, String(v), 7.5);
    label(t, 'figure3c-x-tick');
    el(g, "line", { x1: x1, y1: fy(v), x2: x1 + 4, y2: fy(v), stroke: "#000" });
    const t2 = txt(g, x1 + 7, fy(v) + 3, String(v), 7.5, "start");
    label(t2, 'figure3c-y-tick');
  });
  txt(g, 2198, 577, "VSD (V)", 7.5);
  const yl = txt(g, 2293, 482, "VGD (V)", 7.5);
  yl.setAttribute("transform", "rotate(90 2293 482)");
})();

(function () {
  const g = document.getElementById("fig3d");
  const fx = lin(-10, 10, 2133, 2264), fy = lin(-30, 30, 720, 589);
  el(g, "rect", { x: 2130, y: 586, width: 137, height: 137, fill: "none", stroke: "#000" });
  [-10, -5, 0, 5, 10].forEach(v => {
    el(g, "line", { x1: fx(v), y1: 723, x2: fx(v), y2: 727, stroke: "#000" });
    el(g, "line", { x1: fx(v), y1: 586, x2: fx(v), y2: 582, stroke: "#000" });
    const t = txt(g, fx(v), 738, String(v), 7.5);
    label(t, 'figure3d-x-tick');
  });
  [-30, -20, -10, 0, 10, 20, 30].forEach(v => {
    el(g, "line", { x1: 2267, y1: fy(v), x2: 2271, y2: fy(v), stroke: "#000" });
    const t = txt(g, 2274, fy(v) + 3, String(v), 7.5, "start");
    label(t, 'figure3d-y-tick');
  });
  txt(g, 2198, 750, "VSD (V)", 7.5);
  const yl = txt(g, 2296, 655, "photocurrent (nA)", 7.5);
  yl.setAttribute("transform", "rotate(90 2296 655)");
  const cols = ["#9a30f0", "#2050ff", "#10b010", "#f01818"];
  const ser = [f3dP10, f3dP5, f3dM5, f3dM10];
  const mk = ["tridown", "tri", "square", "circle"];
  ser.forEach((s, i) => series(g, f3dVsd, s, fx, fy, cols[i], "figure3d-vgd" + f3dLabels[i], { marker: mk[i], dash: "4,2,1,2" }));
  el(g, "rect", { x: 2135, y: 592, width: 42, height: 45, fill: "#fff", stroke: "#000", "stroke-width": 0.7 });
  txt(g, 2140, 601, "VGD (V)", 6.5, "start");
  f3dLabels.forEach((s, i) => {
    el(g, "line", { x1: 2139, y1: 608 + i * 8, x2: 2153, y2: 608 + i * 8, stroke: cols[i], "stroke-dasharray": "3,1" });
    const t = txt(g, 2156, 610.5 + i * 8, s, 6.5, "start");
    label(t, 'figure3d-legend-entry');
  });
})();

(function () {
  const g = document.getElementById("fig4");
  const fx = lin(600, 1000, 2392, 2681);
  const fyT = lin(0, 15, 525, 413);
  const fyB = lin(-15, 0, 584, 697);
  const cols = ["#30d860", "#a8e020", "#f0a040", "#e04090", "#8030d0", "#20a0e8"];
  [[410, 530, fyT, f4TopYTicks], [580, 702, fyB, f4BotYTicks]].forEach(([ya, yb, fy, ticks]) => {
    el(g, "rect", { x: 2390, y: ya, width: 298, height: yb - ya, fill: "none", stroke: "#000" });
    f4XTicks.forEach(v => {
      el(g, "line", { x1: fx(v), y1: ya, x2: fx(v), y2: ya - 4, stroke: "#000" });
      el(g, "line", { x1: fx(v), y1: yb, x2: fx(v), y2: yb + 5, stroke: "#000" });
      const t = txt(g, fx(v), yb + 16, String(v), 8);
      label(t, 'figure4-x-tick');
    });
    ticks.forEach(v => {
      el(g, "line", { x1: 2390, y1: fy(v), x2: 2385, y2: fy(v), stroke: "#000" });
      el(g, "line", { x1: 2688, y1: fy(v), x2: 2692, y2: fy(v), stroke: "#000" });
      const t = txt(g, 2382, fy(v) + 3, String(v), 8, "end");
      label(t, 'figure4-y-tick');
    });
    txt(g, 2539, yb + 28, "wavelength (nm)", 8);
  });
  const yl = txt(g, 2355, 560, "responsivity (μA/W)", 8.5);
  yl.setAttribute("transform", "rotate(-90 2355 560)");
  const top = [f4TopP5, f4TopP3, f4TopP1, f4TopM1, f4TopM3, f4TopM5];
  const bot = [f4BotP5, f4BotP3, f4BotP1, f4BotM1, f4BotM3, f4BotM5];
  top.forEach((s, i) => series(g, f4Lambda, s, fx, fyT, cols[i], "figure4-top-vgd" + f4Labels[i], { w: 1.2 }));
  bot.forEach((s, i) => series(g, f4Lambda, s, fx, fyB, cols[i], "figure4-bottom-vgd" + f4Labels[i], { w: 1.2 }));
  txt(g, 2680, 426, "VSD = +3 V", 8, "end");
  txt(g, 2680, 595, "VSD = -3 V", 8, "end");
  el(g, "rect", { x: 2600, y: 432, width: 78, height: 52, fill: "#fff", stroke: "#000", "stroke-width": 1 });
  txt(g, 2639, 444, "VGD (V)", 8);
  f4Labels.forEach((s, i) => {
    const cx = 2606 + (i >= 3 ? 38 : 0), cy = 454 + (i % 3) * 11;
    el(g, "line", { x1: cx, y1: cy, x2: cx + 16, y2: cy, stroke: cols[i], "stroke-width": 2 });
    const t = txt(g, cx + 30, cy + 3, s, 8, "end");
    label(t, 'figure4-legend-entry');
  });
})();

(function () {
  const g = document.getElementById("fig5a");
  const fx = lin(500, 1400, 2919, 3208), fy = lg(0.01, 1, 265, 113);
  el(g, "rect", { x: 2914, y: 87, width: 299, height: 182, fill: "none", stroke: "#000" });
  f5aXTicks.forEach(v => {
    el(g, "line", { x1: fx(v), y1: 87, x2: fx(v), y2: 81, stroke: "#000" });
    el(g, "line", { x1: fx(v), y1: 269, x2: fx(v), y2: 274, stroke: "#000" });
    const t = txt(g, fx(v), 285, String(v), 7.5);
    label(t, 'figure5a-x-tick');
  });
  [0.01, 0.1, 1].forEach(v => {
    el(g, "line", { x1: 2914, y1: fy(v), x2: 2908, y2: fy(v), stroke: "#000" });
    el(g, "line", { x1: 3213, y1: fy(v), x2: 3219, y2: fy(v), stroke: "#000" });
    const t = txt(g, 2906, fy(v) + 3, String(v), 7, "end");
    label(t, 'figure5a-y-tick');
  });
  txt(g, 3063, 297, "wavelength (nm)", 7.5);
  const yl = txt(g, 2883, 180, "R (mA/W)", 7.5);
  yl.setAttribute("transform", "rotate(-90 2883 180)");
  series(g, f5aLambda, f5a2000, fx, fy, "#e02020", "figure5a-2000nw", { marker: "circle", fill: "#fff", r: 3 });
  series(g, f5aLambda, f5a1000, fx, fy, "#20d040", "figure5a-1000nw", { marker: "square", fill: "#fff" });
  series(g, f5aLambda, f5a500, fx, fy, "#8030e0", "figure5a-500nw", { marker: "tri", fill: "#fff" });
  el(g, "rect", { x: 3149, y: 94, width: 56, height: 31, fill: "#fff", stroke: "#000" });
  const lc = ["#e02020", "#20d040", "#8030e0"];
  f5aLabels.forEach((s, i) => {
    el(g, "line", { x1: 3152, y1: 100 + i * 9, x2: 3166, y2: 100 + i * 9, stroke: lc[i] });
    const t = txt(g, 3169, 103 + i * 9, s, 7, "start");
    label(t, 'figure5a-legend-entry');
  });
})();

(function () {
  const g = document.getElementById("fig5b");
  const fx = lg(1, 10, 2962, 3107), fy = lg(0.01, 1, 479, 348);
  el(g, "rect", { x: 2914, y: 307, width: 299, height: 181, fill: "none", stroke: "#000" });
  [1, 10].forEach(v => { const t = txt(g, fx(v), 507, String(v), 8); label(t, 'figure5b-x-tick'); });
  [0.5, 0.6, 0.7, 0.8, 0.9, 2, 3, 4, 5, 6, 7, 8, 9, 20, 30, 40, 50].forEach(v => {
    el(g, "line", { x1: fx(v), y1: 488, x2: fx(v), y2: 492, stroke: "#000" });
    el(g, "line", { x1: fx(v), y1: 307, x2: fx(v), y2: 303, stroke: "#000" });
  });
  [0.01, 0.1, 1].forEach(v => {
    el(g, "line", { x1: 2914, y1: fy(v), x2: 2908, y2: fy(v), stroke: "#000" });
    el(g, "line", { x1: 3213, y1: fy(v), x2: 3219, y2: fy(v), stroke: "#000" });
    const t = txt(g, 2906, fy(v) + 3, String(v), 7, "end");
    label(t, 'figure5b-y-tick');
  });
  txt(g, 3063, 519, "intensity (W/cm²)", 7.5);
  const yl = txt(g, 2883, 400, "photocurrent (nA)", 7.5);
  yl.setAttribute("transform", "rotate(-90 2883 400)");
  const cols = ["#e81010", "#f8a000", "#20d020", "#20b0f0", "#6020e0"];
  const xs = [f5bI532, f5bI633, f5bI735, f5bI1260, f5bI1340];
  const ys = [f5bP532, f5bP633, f5bP735, f5bP1260, f5bP1340];
  const mk = ["circle", "square", "tri", "tridown", "left"];
  xs.forEach((x, i) => series(g, x, ys[i], fx, fy, cols[i], "figure5b-" + f5bLabels[i].replace(" ", ""), { marker: mk[i], r: 3 }));
  el(g, "rect", { x: 2918, y: 312, width: 54, height: 49, fill: "#fff", stroke: "#000" });
  f5bLabels.forEach((s, i) => {
    el(g, "circle", { cx: 2925, cy: 318 + i * 9.3, r: 2.2, fill: cols[i] });
    const t = txt(g, 2933, 321 + i * 9.3, s, 7, "start");
    label(t, 'figure5b-legend-entry');
  });
  const t0 = txt(g, 3165, 406, "iγ = AIᵐ", 11);
  t0.setAttribute("font-family", "Liberation Serif, serif");
  t0.setAttribute("font-style", "italic");
  const ix = lin(500, 1500, 3126, 3198), iy = lin(1.0, 1.5, 463, 419);
  el(g, "rect", { x: 3120, y: 416, width: 81, height: 50, fill: "#fff", stroke: "#000" });
  [1.0, 1.1, 1.2, 1.3, 1.4, 1.5].forEach(v => { el(g, "line", { x1: 3120, y1: iy(v), x2: 3116, y2: iy(v), stroke: "#000" }); const t = txt(g, 3115, iy(v) + 2.5, v.toFixed(1), 6.5, "end"); label(t, 'inset-y-tick'); });
  [500, 1000, 1500].forEach(v => { const t = txt(g, ix(v), 476, String(v), 6.5); label(t, 'inset-x-tick'); });
  txt(g, 3162, 485, "λ (nm)", 6.5);
  f5bInsetLambda.forEach((l, i) => {
    const p = el(g, "rect", { x: ix(l) - 1.5, y: iy(f5bInsetM[i]) - 1.5, width: 3, height: 3, fill: cols[i] });
    
    
    el(g, "line", { x1: ix(l), y1: iy(f5bInsetM[i]) - 4, x2: ix(l), y2: iy(f5bInsetM[i]) + 4, stroke: cols[i], "stroke-width": 0.8 });
  });
})();
</script>
</body></html>
